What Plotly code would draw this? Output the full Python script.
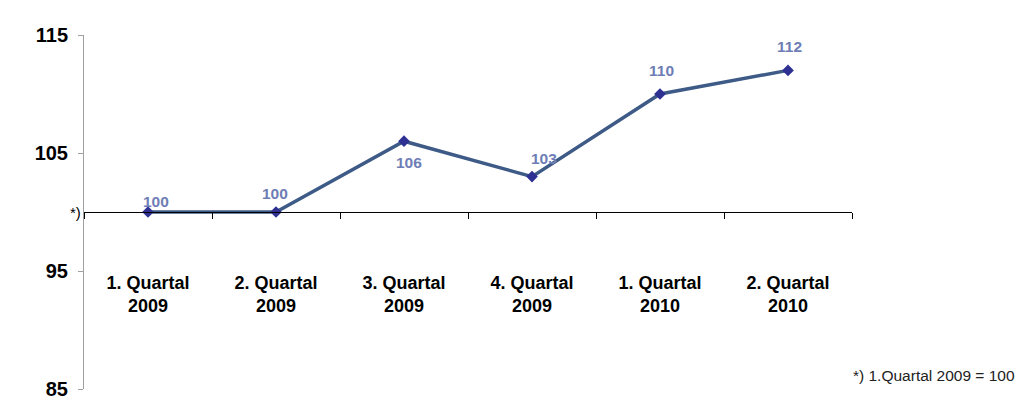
import plotly.graph_objects as go

categories = ["1. Quartal 2009", "2. Quartal 2009", "3. Quartal 2009",
              "4. Quartal 2009", "1. Quartal 2010", "2. Quartal 2010"]
tick_labels = ["1. Quartal<br>2009", "2. Quartal<br>2009", "3. Quartal<br>2009",
               "4. Quartal<br>2009", "1. Quartal<br>2010", "2. Quartal<br>2010"]
values = [100, 100, 106, 103, 110, 112]
y_ticks = [85, 95, 105, 115]

# pixel offsets of the value labels relative to their points (style only)
label_dx = [8, -1, 5, 12, 1, 1]
label_dy = [11, 19, -21, 18, 24, 24]

FONT = "Arial, Liberation Sans, sans-serif"

fig = go.Figure()
fig.add_trace(go.Scatter(
    x=categories, y=values,
    mode="lines+markers",
    line=dict(color="#3E5A86", width=3.5),
    marker=dict(symbol="diamond", size=9, color="#2E3192"),
    cliponaxis=False,
    showlegend=False,
))

annotations = []
for cat, val, dx, dy in zip(categories, values, label_dx, label_dy):
    annotations.append(dict(
        text=str(val), x=cat, y=val, xref="x", yref="y",
        xanchor="center", yanchor="middle", xshift=dx, yshift=dy,
        showarrow=False,
        font=dict(family=FONT, size=15.5, color="#6E7DB5", weight="bold"),
    ))

annotations += [
    dict(text="*)", x=0, y=100, xref="paper", yref="y",
         xanchor="right", yanchor="middle", xshift=-1, showarrow=False,
         font=dict(family=FONT, size=15, color="black")),
    dict(text="*) 1.Quartal 2009 = 100", x=1.215, y=0.037,
         xref="paper", yref="paper", xanchor="right", yanchor="middle",
         showarrow=False, font=dict(family=FONT, size=15.5, color="#222222")),
]

fig.update_layout(
    width=1024, height=398,
    margin=dict(l=76, r=180, t=27, b=17, autoexpand=False),
    paper_bgcolor="white", plot_bgcolor="white",
    font=dict(family=FONT, color="black"),
    xaxis=dict(
        type="category",
        categoryorder="array", categoryarray=categories,
        tickmode="array", tickvals=categories, ticktext=tick_labels,
        range=[-0.5, 5.5],
        anchor="free", position=0.5,
        showline=True, linecolor="black", linewidth=1,
        ticks="outside", tickson="boundaries", ticklen=6, tickcolor="black",
        showgrid=False, zeroline=False, automargin=False,
        ticklabelstandoff=54,
        tickfont=dict(family=FONT, size=18, color="black", weight="bold"),
    ),
    yaxis=dict(
        range=[85, 115],
        tickmode="array", tickvals=y_ticks,
        showline=True, linecolor="#A0A0A0", linewidth=1,
        ticks="outside", ticklen=5, tickcolor="#A0A0A0",
        showgrid=False, zeroline=False, automargin=False,
        ticklabelstandoff=6,
        tickfont=dict(family=FONT, size=20, color="black", weight="bold"),
    ),
    annotations=annotations,
)

fig.write_html("out.html")
